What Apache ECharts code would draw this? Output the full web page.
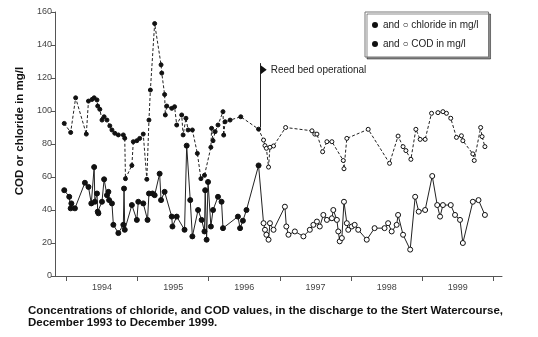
<!DOCTYPE html>
<html><head><meta charset="utf-8">
<script src="https://cdn.jsdelivr.net/npm/echarts@6/dist/echarts.min.js"></script>
<style>html,body{margin:0;padding:0;background:#fff}#c{width:538px;height:337px}</style>
</head><body><div id="c"></div>
<script>
// Dates in decimal years, values in mg/l
const chlorideBeforeDates = [1993.97,1994.06,1994.13,1994.28,1994.31,1994.36,1994.39,1994.43,1994.44,1994.47,1994.50,1994.53,1994.57,1994.61,1994.64,1994.68,1994.73,1994.80,1994.82,1994.83,1994.92,1994.94,1994.99,1995.03,1995.08,1995.13,1995.16,1995.18,1995.24,1995.33,1995.34,1995.38,1995.39,1995.41,1995.48,1995.52,1995.55,1995.62,1995.64,1995.68,1995.71,1995.77,1995.84,1995.89,1995.94,1996.03,1996.04,1996.06,1996.09,1996.13,1996.20,1996.21,1996.23,1996.30,1996.45,1996.70];
const chlorideBeforeValues = [92.5,87,108,86,106,107,108,106.7,103,101,94.5,96.5,94.5,91,88.5,86.5,85.5,85.5,83.5,59,67,81.4,82,83.4,86,58.6,94.5,112.7,153,128,123,110,97.6,103,101.6,102.6,91.5,97.6,85.5,95.6,88.5,88.5,74.3,59,61,78,89.5,82,87.5,91.5,99.6,85.4,93.5,94.5,96.5,89];
const chlorideAfterDates = [1996.77,1996.79,1996.81,1996.84,1996.86,1996.91,1997.08,1997.45,1997.49,1997.52,1997.60,1997.66,1997.73,1997.89,1997.90,1997.94,1998.24,1998.54,1998.66,1998.73,1998.77,1998.84,1998.91,1998.97,1999.04,1999.13,1999.22,1999.29,1999.34,1999.40,1999.48,1999.55,1999.57,1999.71,1999.73,1999.82,1999.84,1999.88];
const chlorideAfterValues = [82.4,79,77.4,66,78,78.8,90,88,86,86,75.3,81.4,81.4,70,65,83.4,88.9,68.3,84.8,78.4,76,70.7,88.9,82.8,82.8,98.6,99,99.6,98.6,95.6,84,85,82,74,70,90,84.5,78.4];

const codBeforeDates = [1993.97,1994.04,1994.06,1994.07,1994.12,1994.26,1994.31,1994.35,1994.39,1994.40,1994.43,1994.44,1994.45,1994.50,1994.53,1994.57,1994.59,1994.60,1994.64,1994.66,1994.73,1994.80,1994.81,1994.82,1994.92,1994.99,1995.01,1995.08,1995.14,1995.16,1995.21,1995.24,1995.31,1995.33,1995.38,1995.48,1995.49,1995.55,1995.66,1995.69,1995.74,1995.77,1995.85,1995.90,1995.94,1995.95,1995.97,1995.99,1996.03,1996.06,1996.13,1996.18,1996.20,1996.41,1996.44,1996.48,1996.53,1996.70];
const codBeforeValues = [52,48,41,44,41,56.5,54,44,66,45,50,39,38,45,58.6,49,51,46,44,31,26,31,53,28,43,34,45,44,34,50,50,49,62,46,51,36,30,36,28,79,46,24,40,34,27,52,22,57,30,40,48,45,29,36,29,33.5,40,67];
const codAfterDates = [1996.77,1996.79,1996.81,1996.84,1996.86,1996.91,1997.07,1997.09,1997.12,1997.21,1997.33,1997.42,1997.47,1997.52,1997.56,1997.61,1997.66,1997.73,1997.75,1997.80,1997.82,1997.84,1997.87,1997.90,1997.94,1997.96,1998.01,1998.05,1998.10,1998.22,1998.33,1998.47,1998.52,1998.57,1998.64,1998.66,1998.73,1998.83,1998.90,1998.95,1999.04,1999.14,1999.21,1999.25,1999.29,1999.40,1999.46,1999.53,1999.57,1999.71,1999.79,1999.88];
const codAfterValues = [32,28,25,22,32,28,42,30,25,27,24,28,31,33,30,37,34,35,40,34,27,21,23,45,32,28,30,31,28,22,29,29,32,27,31,37,25,16,48,39,40,60.6,43,36,43,43,37,34,20,45,46,37];

const yearTicks = [1994,1995,1996,1997,1998,1999,2000];
const yearLabels = [1994,1995,1996,1997,1998,1999];

const reedBedDate = 1996.73;
const reedBedRange = [90, 129];

const FONT = 'Liberation Sans, Arial, sans-serif';
const openStyle = {color:'#fff', borderColor:'#111', borderWidth:1};

function build(dates, values, open) {
  return dates.map((d, i) => open ? {value:[d, values[i]], itemStyle: openStyle} : [d, values[i]]);
}

const chart = echarts.init(document.getElementById('c'), null, {renderer:'canvas'});
chart.setOption({
  animation: false,
  backgroundColor: '#fff',
  grid: {left: 55, right: 36, top: 12, bottom: 61},
  xAxis: {
    type: 'value', min: 1993.84, max: 2000.12,
    splitLine: {show:false},
    axisLine: {lineStyle:{color:'#555', width:1}},
    axisTick: {show:true, length:5, customValues: yearTicks, lineStyle:{color:'#555'}},
    axisLabel: {customValues: yearLabels.map(y => y + 0.5), formatter: v => String(Math.floor(v)),
      fontSize: 9, color:'#444', fontFamily: FONT, margin: 7}
  },
  yAxis: {
    type: 'value', min: 0, max: 160, interval: 20,
    splitLine: {show:false},
    axisLine: {show:true, lineStyle:{color:'#555', width:1}},
    axisTick: {show:true, length:4, lineStyle:{color:'#555'}},
    axisLabel: {fontSize: 9, color:'#444', fontFamily: FONT, margin: 3}
  },
  legend: {
    left: 365, top: 12, orient: 'vertical',
    padding: [8, 10, 8, 7], itemGap: 9, itemWidth: 6, itemHeight: 6,
    borderColor: '#777', borderWidth: 1, backgroundColor: '#fff',
    shadowColor: 'rgba(0,0,0,0.45)', shadowOffsetX: 2, shadowOffsetY: 2, shadowBlur: 0,
    textStyle: {fontSize: 10, color:'#222', fontFamily: FONT},
    data: [{name:'chloride', icon:'circle'}, {name:'COD', icon:'circle'}],
    formatter: n => n === 'chloride' ? 'and \u25CB chloride in mg/l' : 'and \u25CB COD in mg/l'
  },
  graphic: [
    {type:'text', x: 20, y: 131, rotation: Math.PI/2,
     style:{text:'COD or chloride in mg/l', font:'bold 11.5px ' + FONT, fill:'#111', align:'center', verticalAlign:'middle'}},
    {type:'text', left: 28, top: 305,
     style:{text:'Concentrations of chloride, and COD values, in the discharge to the Stert Watercourse,\nDecember 1993 to December 1999.',
       font:'bold 11.5px ' + FONT, fill:'#111', lineHeight: 12}}
  ],
  series: [
    {
      name: 'chloride', type: 'line',
      data: build(chlorideBeforeDates, chlorideBeforeValues, false).concat(build(chlorideAfterDates, chlorideAfterValues, true)),
      symbol: 'circle', symbolSize: 4, showAllSymbol: true,
      itemStyle: {color:'#111', borderColor:'#111'},
      lineStyle: {color:'#222', width: 1, type: [3, 2]},
      z: 3,
      markLine: {
        silent: true, symbol: ['none','none'],
        lineStyle: {color:'#222', width: 1, type:'solid'},
        label: {show:false},
        data: [[{coord:[reedBedDate, reedBedRange[0]]}, {coord:[reedBedDate, reedBedRange[1]]}]]
      },
      markPoint: {
        silent: true,
        data: [{coord:[reedBedDate, reedBedRange[1] - 4], symbol:'triangle', symbolRotate: -90, symbolSize:[9,6], symbolOffset:[3,0],
          itemStyle:{color:'#111'},
          label:{show:true, position:'right', distance: 4, formatter:'Reed bed operational', fontSize: 10, color:'#222', fontFamily: FONT}}]
      }
    },
    {
      name: 'COD', type: 'line',
      data: build(codBeforeDates, codBeforeValues, false).concat(build(codAfterDates, codAfterValues, true)),
      symbol: 'circle', symbolSize: 5, showAllSymbol: true,
      itemStyle: {color:'#111', borderColor:'#111'},
      lineStyle: {color:'#222', width: 1},
      z: 4
    }
  ]
});
</script>
</body></html>
